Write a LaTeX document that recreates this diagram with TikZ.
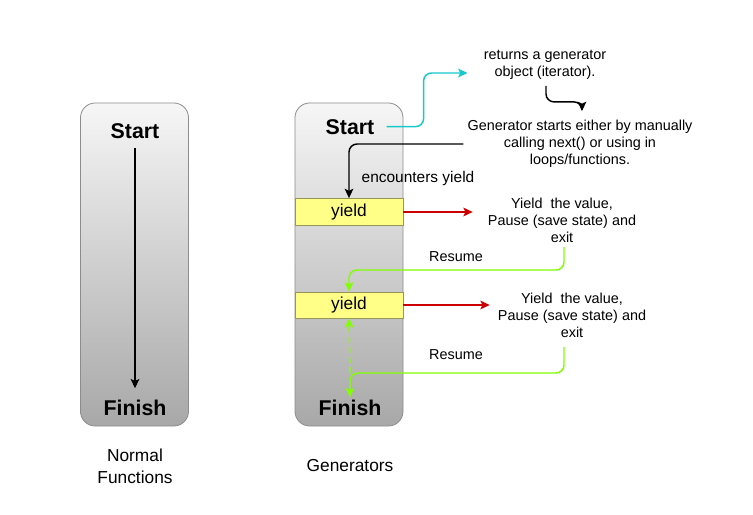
\documentclass[tikz,border=0pt]{standalone}
\usepackage{fontspec}
\setmainfont{Liberation Sans}
\usetikzlibrary{arrows.meta,calc}
\definecolor{cyanA}{RGB}{23,200,205}
\definecolor{redA}{RGB}{204,0,0}
\definecolor{greenA}{RGB}{128,255,0}
\definecolor{panelBorder}{RGB}{140,140,140}
\definecolor{panelTop}{RGB}{246,246,246}
\definecolor{panelBot}{RGB}{168,168,168}
\definecolor{yFill}{RGB}{255,255,136}
\definecolor{yDraw}{RGB}{150,150,90}
\begin{document}
\begin{tikzpicture}[x=0.75pt,y=-0.75pt,
  panel/.style={draw=panelBorder, line width=0.6pt, rounded corners=11pt,
    top color=panelTop, bottom color=panelBot, inner sep=0pt,
    minimum width=81pt, minimum height=242.25pt},
  ttl/.style={font=\bfseries\fontsize{16}{19}\selectfont, inner sep=0pt, anchor=base},
  ybox/.style={draw=yDraw, fill=yFill, line width=0.6pt, minimum width=81pt,
    inner sep=0pt, font=\fontsize{13}{15}\selectfont},
  txt/.style={align=center, inner sep=0pt, font=\fontsize{10.8}{12.75}\selectfont},
  captxt/.style={align=center, inner sep=0pt, font=\fontsize{13}{16.5}\selectfont},
  arrowtip/.style={-{Stealth[length=7pt,width=6.5pt,inset=1.5pt]}},
  blk/.style={arrowtip, draw=black, line width=1.1pt, rounded corners=6pt},
  cy/.style={arrowtip, draw=cyanA, line width=1.1pt, rounded corners=6pt},
  rd/.style={arrowtip, draw=redA, line width=1.1pt},
  gr/.style={arrowtip, draw=greenA, line width=1.1pt, rounded corners=6pt},
]
\fill[white] (0,0) rectangle (753,514);
\useasboundingbox (0,0) rectangle (753,514);

% left panel
\node[panel] (lp) at (134.5,264.5) {};
\node[ttl] (ls) at (135,138) {Start};
\node[ttl] (lf) at (135,415) {Finish};
\draw[arrowtip, line width=0.8pt] ($(ls.south)+(0,10)$) -- ($(lf.north)+(0,-11)$);
\node[captxt] (lcap) at (135,466) {Normal\\Functions};

% right panel
\node[panel] (rp) at (349,264.5) {};
\node[ttl] (rs) at (350,134) {Start};
\node[ttl] (rf) at (350,415) {Finish};
\node[ybox, minimum height=20.25pt] (y1) at (349,212) {yield};
\node[ybox, minimum height=19.5pt] (y2) at (349,305) {yield};
\node[captxt] (rcap) at (350,466) {Generators};

% texts
\node[txt] (ret) at (545,65) {returns a generator\\object (iterator).};
\node[txt] (gen) at (580,144) {Generator starts either by manually\\calling next() or using in\\loops/functions.};
\node[inner sep=0pt, anchor=base, font=\fontsize{11.6}{14}\selectfont] (enc) at (418,182) {encounters yield};
\node[txt] (yt1) at (562,220) {Yield\ \ the value,\\Pause (save state) and\\exit};
\node[txt] (yt2) at (572,315) {Yield\ \ the value,\\Pause (save state) and\\exit};
\node[inner sep=0pt, anchor=base, font=\fontsize{10.8}{12.75}\selectfont] (res1) at (456,261) {Resume};
\node[inner sep=0pt, anchor=base, font=\fontsize{10.8}{12.75}\selectfont] (res2) at (456,359) {Resume};

% connectors
\coordinate (cyS) at ($(rs.east)+(12,0)$);
\draw[cy] (cyS) -- ++(37,0) |- ($(ret.west)+(-16,8)$);
\draw[blk] ($(ret.south)+(1,6)$) -- ++(0,16) -| ($(gen.north)+(2,-9)$);
\draw[blk] ($(gen.west)+(-4,0)$) -| (y1.north);
\draw[rd] (y1.east) -- ($(y1.east -| yt1.west)+(-15,0)$);
\draw[rd] (y2.east) -- ($(y2.east -| yt2.west)+(-8,0)$);
\coordinate (g1) at (564,247);
\draw[gr] (g1) -- ++(0,23) -| (y2.north);
\coordinate (g2) at (564,347);
\coordinate (gc) at (350,373);
\draw[gr] (g2) |- (gc) -- ($(rf.north)+(0,-2)$);
\draw[arrowtip, draw=greenA, line width=1.1pt, dash pattern=on 4.5pt off 3pt] (gc) -- (y2.south);
\end{tikzpicture}
\end{document}
